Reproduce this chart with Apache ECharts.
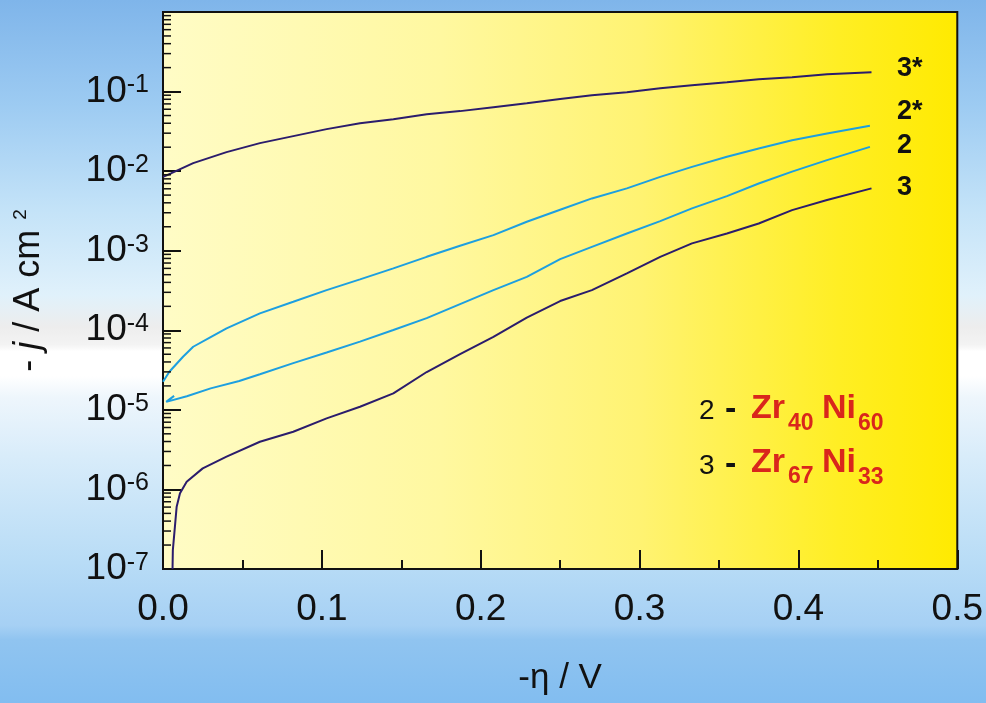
<!DOCTYPE html>
<html>
<head>
<meta charset="utf-8">
<script src="https://cdn.jsdelivr.net/npm/echarts@6/dist/echarts.min.js"></script>
<style>
html,body{margin:0;padding:0;width:986px;height:703px;overflow:hidden;}
#c{width:986px;height:703px;}
</style>
</head>
<body>
<div id="c"></div>
<script>
// ---- data ----
const eta3Star = [0, 0.005, 0.019, 0.040, 0.061, 0.082, 0.103, 0.124, 0.145, 0.166, 0.187, 0.208, 0.229, 0.250, 0.270, 0.292, 0.313, 0.333, 0.355, 0.375, 0.396, 0.418, 0.446];
const j3Star   = [0.00847, 0.00935, 0.0126, 0.01734, 0.02249, 0.02754, 0.03373, 0.04009, 0.04498, 0.0520, 0.0568, 0.0637, 0.0714, 0.0804, 0.0902, 0.0982, 0.1104, 0.1202, 0.1312, 0.1432, 0.1517, 0.1656, 0.1754];

const eta2Star = [0, 0.002, 0.004, 0.0126, 0.019, 0.030, 0.040, 0.061, 0.082, 0.103, 0.124, 0.145, 0.166, 0.187, 0.208, 0.229, 0.250, 0.270, 0.292, 0.313, 0.333, 0.355, 0.375, 0.396, 0.418, 0.445];
const j2Star   = [2.25e-5, 2.61e-5, 3.01e-5, 4.65e-5, 6.21e-5, 8.22e-5, 1.057e-4, 1.63e-4, 2.28e-4, 3.20e-4, 4.36e-4, 6.0e-4, 8.38e-4, 1.153e-3, 1.57e-3, 2.31e-3, 3.27e-3, 4.54e-3, 6.07e-3, 8.47e-3, 1.132e-2, 1.514e-2, 1.93e-2, 2.45e-2, 2.98e-2, 3.71e-2];

const eta2 = [0.007, 0.002, 0.015, 0.030, 0.048, 0.061, 0.082, 0.103, 0.124, 0.145, 0.166, 0.187, 0.208, 0.229, 0.250, 0.270, 0.292, 0.313, 0.333, 0.355, 0.375, 0.396, 0.418, 0.445];
const j2   = [1.5e-5, 1.26e-5, 1.48e-5, 1.862e-5, 2.30e-5, 2.80e-5, 3.87e-5, 5.25e-5, 7.21e-5, 1.007e-4, 1.422e-4, 2.13e-4, 3.20e-4, 4.70e-4, 7.83e-4, 1.119e-3, 1.648e-3, 2.355e-3, 3.40e-3, 4.85e-3, 7.0e-3, 9.86e-3, 1.374e-2, 2.02e-2];

const eta3 = [0.006, 0.0062, 0.0075, 0.0086, 0.0107, 0.0149, 0.025, 0.040, 0.061, 0.082, 0.103, 0.124, 0.145, 0.166, 0.187, 0.208, 0.229, 0.250, 0.270, 0.292, 0.313, 0.333, 0.355, 0.375, 0.396, 0.418, 0.446];
const j3   = [1.0e-7, 1.73e-7, 3.40e-7, 6.07e-7, 8.93e-7, 1.25e-6, 1.84e-6, 2.58e-6, 3.97e-6, 5.31e-6, 7.82e-6, 1.094e-5, 1.61e-5, 2.99e-5, 5.02e-5, 8.28e-5, 1.445e-4, 2.33e-4, 3.20e-4, 5.19e-4, 8.38e-4, 1.236e-3, 1.648e-3, 2.20e-3, 3.24e-3, 4.33e-3, 6.07e-3];

const xTickLabels = ['0.0', '0.1', '0.2', '0.3', '0.4', '0.5'];
const curveLabels = ['3*', '2*', '2', '3'];

// ---- build ----
const zip = (xs, ys) => xs.map((x, i) => [x, ys[i]]);
const FONT = '"Liberation Sans", Arial, Helvetica, sans-serif';
const NAVY = '#2b1c6c';
const CYAN = '#1d9fe0';
const RED = '#d9261c';

const minorTickVals = [];
for (let e = -7; e < 0; e++) {
  for (let m = 2; m <= 9; m++) minorTickVals.push([0, m * Math.pow(10, e)]);
}

const chart = echarts.init(document.getElementById('c'), null, {renderer: 'canvas'});

function txt(text, x, y, size, color, bold, align) {
  return {
    type: 'text', x: x, y: y, z: 100,
    style: {
      text: text, fill: color, font: (bold ? 'bold ' : '') + size + 'px ' + FONT,
      align: align || 'left', verticalAlign: 'middle'
    }
  };
}

const option = {
  animation: false,
  backgroundColor: {
    type: 'linear', x: 0, y: 0, x2: 0, y2: 1,
    colorStops: [
      {offset: 0, color: '#7fb5ea'},
      {offset: 0.15, color: '#9dcbf2'},
      {offset: 0.30, color: '#c4e3f8'},
      {offset: 0.42, color: '#e0f1fb'},
      {offset: 0.465, color: '#ededed'},
      {offset: 0.49, color: '#f3f3f3'},
      {offset: 0.50, color: '#ffffff'},
      {offset: 0.535, color: '#ffffff'},
      {offset: 0.565, color: '#eef6fc'},
      {offset: 0.65, color: '#d8ecfa'},
      {offset: 0.80, color: '#b8dcf6'},
      {offset: 0.89, color: '#a6d0f4'},
      {offset: 0.91, color: '#90c4f0'},
      {offset: 1, color: '#82bdf0'}
    ]
  },
  grid: {
    left: 163, top: 12, right: 28, bottom: 134,
    show: true, borderColor: '#111', borderWidth: 2,
    backgroundColor: {
      type: 'linear', x: 0, y: 0, x2: 1, y2: 0,
      colorStops: [
        {offset: 0, color: '#fffcc6'},
        {offset: 0.35, color: '#fff8a0'},
        {offset: 0.6, color: '#fff372'},
        {offset: 0.85, color: '#ffee24'},
        {offset: 1, color: '#ffea00'}
      ]
    }
  },
  xAxis: {
    type: 'value', min: 0, max: 0.5, interval: 0.1,
    name: '-η / V', nameLocation: 'middle', nameGap: 92,
    nameTextStyle: {fontFamily: FONT, fontSize: 35, color: '#111'},
    axisLine: {show: true, onZero: false, lineStyle: {color: '#111', width: 2}},
    axisTick: {show: true, inside: true, length: 19, lineStyle: {color: '#111', width: 2}},
    minorTick: {show: true, splitNumber: 2, length: 9, lineStyle: {color: '#111', width: 2}},
    splitLine: {show: false}, minorSplitLine: {show: false},
    axisLabel: {
      margin: 22, fontFamily: FONT, fontSize: 37, color: '#111',
      formatter: v => xTickLabels[Math.round(v * 10)]
    }
  },
  yAxis: {
    type: 'log', logBase: 10, min: 1e-7, max: 1, splitNumber: 7,
    name: '{a|- }{i|j}{a| / A cm }{s|2}', nameLocation: 'middle', nameGap: 116,
    nameTextStyle: {
      rich: {
        a: {fontFamily: FONT, fontSize: 36, color: '#111'},
        i: {fontFamily: FONT, fontSize: 36, fontStyle: 'italic', color: '#111'},
        s: {fontFamily: FONT, fontSize: 19, color: '#111', verticalAlign: 'top'}
      }
    },
    axisLine: {show: true, onZero: false, lineStyle: {color: '#111', width: 2}},
    axisTick: {show: true, inside: true, length: 18, lineStyle: {color: '#111', width: 2}},
    splitLine: {show: false},
    axisLabel: {
      margin: 14,
      formatter: v => {
        const e = Math.round(Math.log10(v));
        if (e >= 0) return '';
        return '{b|10}{s|' + e + '}';
      },
      rich: {
        b: {fontFamily: FONT, fontSize: 37, color: '#111'},
        s: {fontFamily: FONT, fontSize: 25, color: '#111', verticalAlign: 'top'}
      }
    }
  },
  series: [
    {type: 'line', name: '3*', data: zip(eta3Star, j3Star), showSymbol: false, lineStyle: {color: NAVY, width: 2}, z: 3},
    {type: 'line', name: '2*', data: zip(eta2Star, j2Star), showSymbol: false, lineStyle: {color: CYAN, width: 2}, z: 3},
    {type: 'line', name: '2', data: zip(eta2, j2), showSymbol: false, lineStyle: {color: CYAN, width: 2}, z: 3},
    {type: 'line', name: '3', data: zip(eta3, j3), showSymbol: false, lineStyle: {color: NAVY, width: 2}, z: 3},
    {
      type: 'custom', name: 'minorTicks', silent: true, clip: false, z: 4,
      data: minorTickVals,
      renderItem: (params, api) => {
        const p = api.coord([0, api.value(1)]);
        return {type: 'line', shape: {x1: p[0], y1: p[1], x2: p[0] + 8, y2: p[1]}, style: {stroke: '#111', lineWidth: 1.5}};
      }
    }
  ],
  graphic: [
    txt(curveLabels[0], 897, 69, 27, '#111', true),
    txt(curveLabels[1], 897, 112, 27, '#111', true),
    txt(curveLabels[2], 897, 146, 27, '#111', true),
    txt(curveLabels[3], 897, 188, 27, '#111', true),
    // composition note
    txt('2', 699, 411, 28, '#111', false),
    txt('-', 725, 410, 34, '#111', true),
    txt('Zr', 751, 409, 34, RED, true),
    txt('40', 788, 424, 23, RED, true),
    txt('Ni', 822, 409, 34, RED, true),
    txt('60', 858, 424, 23, RED, true),
    txt('3', 699, 466, 28, '#111', false),
    txt('-', 725, 465, 34, '#111', true),
    txt('Zr', 751, 463, 34, RED, true),
    txt('67', 788, 477, 23, RED, true),
    txt('Ni', 822, 463, 34, RED, true),
    txt('33', 858, 478, 23, RED, true)
  ]
};
chart.setOption(option);
</script>
</body>
</html>
